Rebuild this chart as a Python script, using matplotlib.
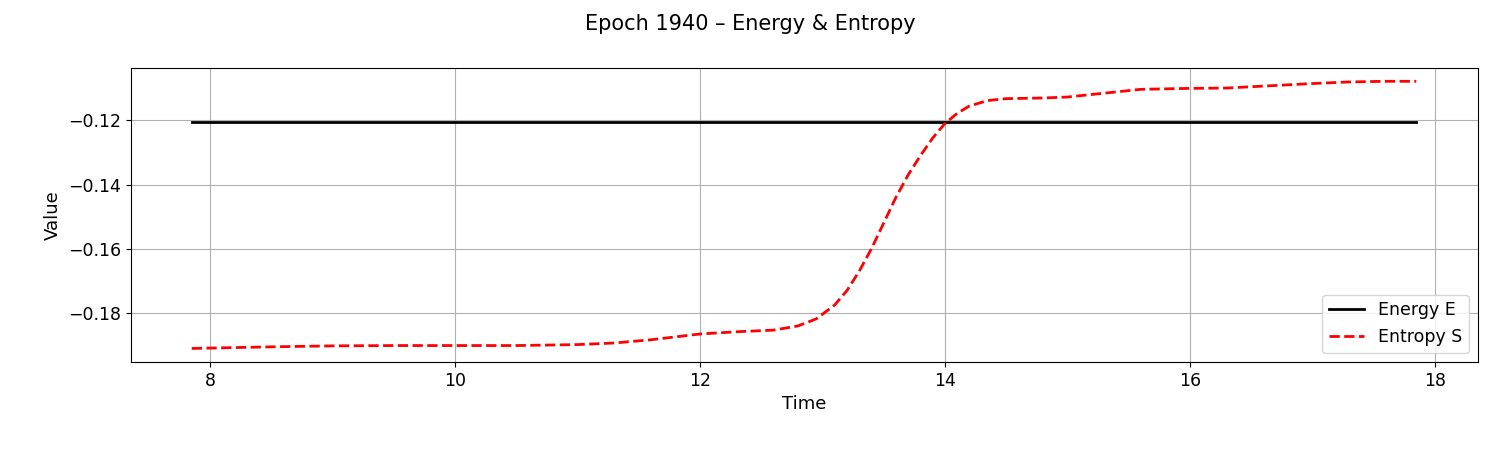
import numpy as np
from matplotlib import pyplot as plt

time = [7.85, 8.5, 9.0, 9.5, 10.0, 10.5, 11.0, 11.3, 11.6, 12.0, 12.3, 12.6, 12.8, 12.95,
        13.1, 13.2, 13.3, 13.4, 13.5, 13.6, 13.7, 13.8, 13.9, 14.0, 14.1, 14.2, 14.35,
        14.5, 14.8, 15.0, 15.3, 15.6, 16.0, 16.3, 16.6, 17.0, 17.3, 17.6, 17.85]
entropy = [-0.1910, -0.1905, -0.1902, -0.1901, -0.1901, -0.1901, -0.1898, -0.1893, -0.1883,
           -0.1865, -0.1858, -0.1853, -0.1840, -0.1818,
           -0.1775, -0.1730, -0.1670, -0.1600, -0.1520, -0.1440, -0.1370, -0.1310, -0.1255,
           -0.1210, -0.1178, -0.1155, -0.1138,
           -0.1132, -0.1130, -0.1127, -0.1115, -0.1103, -0.1100, -0.1099, -0.1093, -0.1085,
           -0.1080, -0.1078, -0.1078]
energy = [-0.1206] * len(time)

fig = plt.figure(figsize=(15, 4.5), dpi=100)
ax = fig.add_axes([0.087, 0.196, 0.898, 0.653])
ax.plot(time, energy, color='black', lw=2, label='Energy E')
ax.plot(time, entropy, color='red', ls='--', lw=2, label='Entropy S')
ax.set_xlabel('Time', fontsize=13)
ax.set_ylabel('Value', fontsize=13)
ax.tick_params(labelsize=12.5)
ax.set_yticks([-0.18, -0.16, -0.14, -0.12])
ax.grid(True)
ax.legend(loc='lower right', fontsize=12.5)
fig.suptitle('Epoch 1940 \u2013 Energy & Entropy', fontsize=15, y=0.97)
fig.savefig('out.png')
